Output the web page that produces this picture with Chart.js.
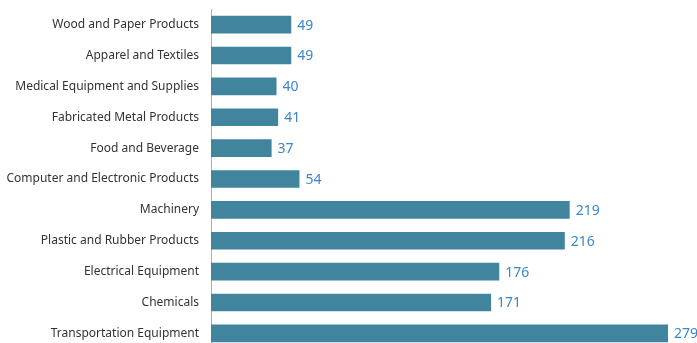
<!DOCTYPE html>
<html>
<head>
<meta charset="utf-8">
<script src="https://cdn.jsdelivr.net/npm/chart.js@4"></script>
<style>
  html, body { margin: 0; padding: 0; background: #fff; overflow: hidden; }
  #wrap { position: relative; width: 697px; height: 378px; margin-top: -10px; }
</style>
</head>
<body>
<div id="wrap"><canvas id="barChart"></canvas></div>
<script>
  var categories = ["Wood and Paper Products", "Apparel and Textiles", "Medical Equipment and Supplies",
    "Fabricated Metal Products", "Food and Beverage", "Computer and Electronic Products", "Machinery",
    "Plastic and Rubber Products", "Electrical Equipment", "Chemicals", "Transportation Equipment"];
  var values = [49, 49, 40, 41, 37, 54, 219, 216, 176, 171, 279];

  // value labels at the end of each bar
  var valueLabels = {
    id: 'valueLabels',
    afterDatasetsDraw: function(chart) {
      var ctx = chart.ctx;
      var meta = chart.getDatasetMeta(0);
      ctx.save();
      ctx.font = '14px "Noto Sans"';
      ctx.fillStyle = '#3a87c9';
      ctx.textAlign = 'left';
      ctx.textBaseline = 'middle';
      meta.data.forEach(function(bar, i) {
        ctx.fillText(values[i], bar.x + 6, bar.y + 1);
      });
      ctx.restore();
    }
  };

  var ctxB = document.getElementById("barChart").getContext('2d');
  var myBarChart = new Chart(ctxB, {
    type: 'bar',
    data: {
      labels: categories,
      datasets: [{
        data: values,
        backgroundColor: '#41849e',
        borderWidth: 0,
        barPercentage: 0.57,
        categoryPercentage: 1
      }]
    },
    options: {
      indexAxis: 'y',
      responsive: true,
      maintainAspectRatio: false,
      animation: false,
      layout: { padding: { top: 9, bottom: 1, right: 11, left: 0 } },
      plugins: { legend: { display: false }, tooltip: { enabled: false } },
      scales: {
        x: { display: false, min: 0, max: 290 },
        y: {
          afterFit: function(scale) { scale.width = 211; },
          grid: { display: false, drawTicks: false },
          border: { color: '#b0b0b0', width: 1 },
          ticks: {
            padding: 12,
            color: '#333',
            font: { family: '"Noto Sans"', size: 12 }
          }
        }
      }
    },
    plugins: [valueLabels]
  });
</script>
</body>
</html>
